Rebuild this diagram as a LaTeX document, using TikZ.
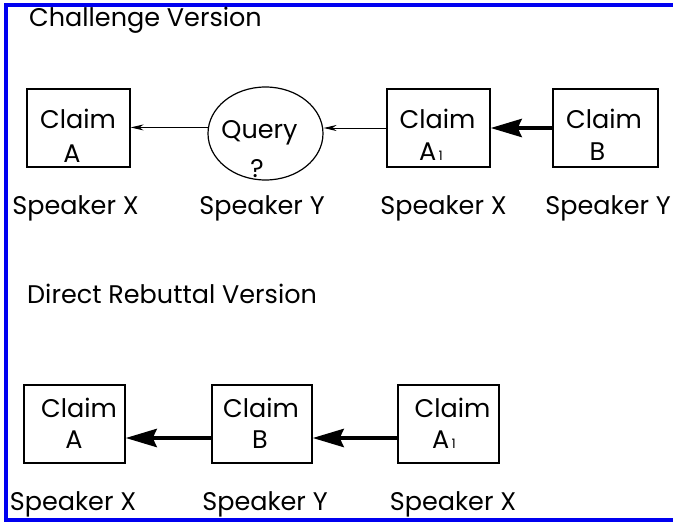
\documentclass[tikz,border=0pt]{standalone}
\usepackage{fontspec}
\setmainfont{Poppins}
\usetikzlibrary{arrows.meta,shapes.geometric}
\begin{document}
\begin{tikzpicture}[x=1pt,y=-1pt,
  box/.style={draw=black,line width=1.3pt,minimum width=#1,minimum height=78pt,inner sep=0pt},
  oval/.style={draw=black,line width=1.2pt,ellipse,minimum width=115pt,minimum height=93pt,inner sep=0pt},
  txt/.style={anchor=base,inner sep=0pt,font=\fontsize{25.5}{30}\selectfont},
  thinarrow/.style={draw=black,line width=0.9pt,-{Stealth[length=13pt,width=6pt]}},
  thickarrow/.style={draw=black,line width=4.5pt,-{Stealth[length=31pt,width=18pt,inset=4pt]}},
  frame/.style={draw={rgb,255:red,0;green,0;blue,240},line width=4pt}
]
\useasboundingbox (0,0) rectangle (673,522);
\fill[white] (0,0) rectangle (673,522);
\draw[frame] (673,5) -- (5.5,5) -- (5.5,520) -- (673,520);

% Challenge version
\node[txt,anchor=base west] (t1) at (29,27) {Challenge Version};
\node[box=103pt] (ca) at (78.5,128) {};
\node[oval] (q) at (265.5,133.5) {};
\node[box=103pt] (ca1) at (438.5,128) {};
\node[box=105pt] (cb) at (605.5,128) {};

\node[txt] (ca-l1) at (78,128) {Claim};
\node[txt] (ca-l2) at (72,162) {A};
\node[txt] (q-l1) at (259.5,138) {Query};
\node[txt] (q-l2) at (257,177) {?};
\node[txt] (ca1-l1) at (437.5,128) {Claim};
\node[txt] (ca1-l2) at (431,160) {A\fontsize{13}{13}\selectfont\,1};
\node[txt] (cb-l1) at (604,128) {Claim};
\node[txt] (cb-l2) at (597.5,160) {B};

\node[txt] (s1) at (75.5,214) {Speaker X};
\node[txt] (s2) at (262,214) {Speaker Y};
\node[txt] (s3) at (443.5,214) {Speaker X};
\node[txt,anchor=base east] (s4) at (671,214) {Speaker Y};

\draw[thinarrow] (q.174) -- (q.174 -| ca.east);
\draw[thinarrow] (ca1.west) -- (ca1.west -| q.east);
\draw[thickarrow] (cb.west) -- (ca1.east);

% Direct rebuttal version
\node[txt,anchor=base west] (t2) at (27,303) {Direct Rebuttal Version};
\node[box=101pt] (da) at (74.5,424) {};
\node[box=100pt] (db) at (262,424) {};
\node[box=101pt] (da1) at (448.5,424) {};

\node[txt] (da-l1) at (79,417) {Claim};
\node[txt] (da-l2) at (74,448) {A};
\node[txt] (db-l1) at (261,417) {Claim};
\node[txt] (db-l2) at (260,448) {B};
\node[txt] (da1-l1) at (452.5,417) {Claim};
\node[txt] (da1-l2) at (444,448) {A\fontsize{13}{13}\selectfont\,1};

\node[txt] (s5) at (73,510) {Speaker X};
\node[txt] (s6) at (265,510) {Speaker Y};
\node[txt] (s7) at (453,510) {Speaker X};

\draw[thickarrow] ([yshift=-14pt]db.west) -- ([yshift=-14pt]da.east);
\draw[thickarrow] ([yshift=-14pt]da1.west) -- ([yshift=-14pt]db.east);
\end{tikzpicture}
\end{document}
